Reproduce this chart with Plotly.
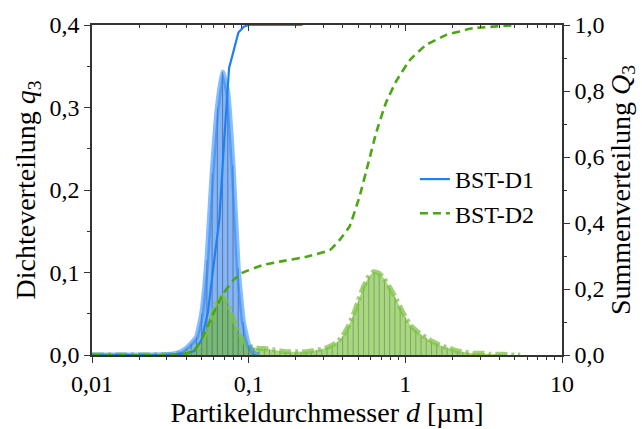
import plotly.graph_objects as go

# ---- data -------------------------------------------------------------
# bin centres (µm)
d_bins = [0.01, 0.02,
          0.03162, 0.03415, 0.03687, 0.03981, 0.04299, 0.04642, 0.05012, 0.05412,
          0.05843, 0.06310, 0.06813, 0.07356, 0.07943, 0.08577, 0.09261,
          0.1000, 0.1080, 0.1166, 0.1259, 0.1359, 0.1468, 0.1585, 0.1711, 0.1848,
          0.1995, 0.2154, 0.2326, 0.2512, 0.2712, 0.2929, 0.3162, 0.3415, 0.3687,
          0.3981, 0.4299, 0.4642, 0.5012, 0.5412, 0.5843, 0.6310, 0.6813, 0.7356,
          0.7943, 0.8577, 0.9261,
          1.000, 1.080, 1.166, 1.259, 1.359, 1.468, 1.585, 1.711, 1.848, 1.995,
          2.154, 2.326, 2.512, 2.712, 2.929, 3.162, 3.415, 3.687, 3.981, 4.299,
          4.642, 5.012, 5.412]

# density q3, BST-D1
q3_d1 = [0.0, 0.0,
         0.001, 0.002, 0.004, 0.008, 0.014, 0.022, 0.050, 0.115,
         0.220, 0.300, 0.343, 0.318, 0.230, 0.105, 0.040,
         0.012, 0.002, 0.0]
d_d1 = d_bins[:len(q3_d1)]

# density q3, BST-D2
q3_d2 = [0.0, 0.0,
         0.000, 0.001, 0.002, 0.003, 0.004, 0.007, 0.015, 0.030,
         0.048, 0.066, 0.071, 0.062, 0.045, 0.030, 0.017,
         0.011, 0.009, 0.008, 0.008, 0.007, 0.006, 0.005, 0.004, 0.004,
         0.004, 0.004, 0.004, 0.005, 0.006, 0.007, 0.009, 0.012, 0.016,
         0.023, 0.034, 0.048, 0.066, 0.083, 0.095, 0.101, 0.099, 0.092,
         0.082, 0.071, 0.058,
         0.046, 0.036, 0.030, 0.025, 0.021, 0.017, 0.014, 0.011, 0.009, 0.007,
         0.005, 0.004, 0.003, 0.002, 0.002, 0.002, 0.001, 0.001, 0.001, 0.001,
         0.000, 0.000, 0.000]
d_d2 = d_bins[:len(q3_d2)]

# cumulative Q3
d_Q_d1 = [0.01, 0.03, 0.04, 0.045, 0.05, 0.055, 0.06, 0.065, 0.07, 0.075,
          0.08, 0.086, 0.093, 0.1, 0.22]
Q3_d1 = [0.0, 0.0, 0.005, 0.012, 0.045, 0.13, 0.28, 0.41, 0.66, 0.87,
         0.92, 0.977, 0.995, 1.0, 1.0]

d_Q_d2 = [0.01, 0.035, 0.0443, 0.051, 0.0595, 0.069, 0.080, 0.090, 0.124,
          0.158, 0.234, 0.33, 0.38, 0.44, 0.51, 0.58, 0.65, 0.75, 0.87,
          1.07, 1.35, 1.83, 2.7, 4.8]
Q3_d2 = [0.0, 0.0, 0.01, 0.055, 0.126, 0.187, 0.227, 0.248, 0.273,
         0.283, 0.298, 0.318, 0.348, 0.389, 0.48, 0.581, 0.672, 0.763, 0.828,
         0.894, 0.939, 0.97, 0.99, 0.999]

series_names = ["BST-D1", "BST-D2"]
x_tickvals = [0.01, 0.1, 1, 10]
x_ticktext = ["0,01", "0,1", "1", "10"]
x_minor = [m * 10 ** e for e in (-2, -1, 0) for m in range(2, 10)]

# ---- styling ----------------------------------------------------------
FONT = "Liberation Serif"
BLUE = "#1f80f5"
GREEN = "#4ba614"
AX = "#333333"
TICKFONT = dict(family=FONT, size=24, color="black")
TITLEFONT = dict(family=FONT, size=28, color="black")


def vlines(xs, ys):
    vx, vy = [], []
    for x, y in zip(xs, ys):
        if y > 0:
            vx += [x, x, None]
            vy += [0, y, None]
    return vx, vy


fig = go.Figure()

fig.add_trace(go.Scatter(x=d_d1, y=q3_d1, mode="lines", line=dict(width=0, shape="spline", smoothing=0.4),
                         fill="tozeroy", fillcolor="rgba(30,120,240,0.55)",
                         showlegend=False, hoverinfo="skip"))
vx, vy = vlines(d_d1, q3_d1)
fig.add_trace(go.Scatter(x=vx, y=vy, mode="lines", line=dict(width=1, color="rgba(70,70,90,0.55)"),
                         showlegend=False, hoverinfo="skip"))

fig.add_trace(go.Scatter(x=d_d2, y=q3_d2, mode="lines", line=dict(width=0, shape="spline", smoothing=0.4),
                         fill="tozeroy", fillcolor="rgba(110,190,40,0.6)",
                         showlegend=False, hoverinfo="skip"))
vx, vy = vlines(d_d2, q3_d2)
fig.add_trace(go.Scatter(x=vx, y=vy, mode="lines", line=dict(width=1, color="rgba(90,90,90,0.45)"),
                         showlegend=False, hoverinfo="skip"))

fig.add_trace(go.Scatter(x=d_d2, y=q3_d2, mode="lines",
                         line=dict(width=5, color="rgba(125,195,70,0.75)", dash="12px,4px,3px,4px",
                                   shape="spline", smoothing=0.4),
                         showlegend=False, hoverinfo="skip"))
fig.add_trace(go.Scatter(x=d_d1, y=q3_d1, mode="lines",
                         line=dict(width=5, color="rgba(40,135,250,0.55)", shape="spline", smoothing=0.4),
                         showlegend=False, hoverinfo="skip"))

fig.add_trace(go.Scatter(x=d_Q_d1, y=Q3_d1, mode="lines", name=series_names[0],
                         line=dict(width=2.2, color=BLUE), yaxis="y2"))
fig.add_trace(go.Scatter(x=d_Q_d2, y=Q3_d2, mode="lines", name=series_names[1],
                         line=dict(width=2.6, color=GREEN, dash="8px,5px", shape="spline", smoothing=0.3),
                         yaxis="y2"))

fig.add_trace(go.Scatter(x=[0.01], y=[0], xaxis="x2", yaxis="y", mode="markers",
                         marker=dict(opacity=0), showlegend=False, hoverinfo="skip"))

fig.update_layout(
    width=642, height=429,
    margin=dict(l=92, r=80, t=25, b=74, autoexpand=False),
    paper_bgcolor="white", plot_bgcolor="white",
    separators=",.",
    font=dict(family=FONT, size=24, color="black"),
    xaxis=dict(type="log", range=[-2, 1], tickmode="array", tickvals=x_tickvals, ticktext=x_ticktext,
               ticks="outside", ticklen=6, tickcolor=AX, tickwidth=1.3, tickfont=TICKFONT,
               showline=True, linecolor=AX, linewidth=1.5, showgrid=False, zeroline=False,
               minor=dict(tickmode="array", tickvals=x_minor, ticks="outside", ticklen=3,
                          tickcolor=AX, tickwidth=1.2),
               title=dict(text="Partikeldurchmesser <i>d</i> [µm]", font=TITLEFONT, standoff=4)),
    xaxis2=dict(type="log", range=[-2, 1], overlaying="x", side="top", anchor="y",
                tickmode="array", tickvals=x_tickvals, ticks="inside", ticklen=6, showticklabels=False,
                tickcolor=AX, tickwidth=1.3,
                showline=True, linecolor=AX, linewidth=1.5, showgrid=False, zeroline=False,
                minor=dict(tickmode="array", tickvals=x_minor, ticks="inside", ticklen=3,
                           tickcolor=AX, tickwidth=1.2)),
    yaxis=dict(range=[0, 0.4], dtick=0.1, tickformat=".1f", ticks="outside", ticklen=6,
               tickcolor=AX, tickwidth=1.3, tickfont=TICKFONT,
               showline=True, linecolor=AX, linewidth=1.5, showgrid=False, zeroline=False,
               minor=dict(dtick=0.05, ticks="outside", ticklen=3, tickcolor=AX, tickwidth=1.2),
               title=dict(text="Dichteverteilung <i>q</i><sub>3</sub>", font=TITLEFONT, standoff=6)),
    yaxis2=dict(range=[0, 1], dtick=0.2, tickformat=".1f", overlaying="y", side="right", anchor="x",
                ticks="outside", ticklen=6, tickcolor=AX, tickwidth=1.3, tickfont=TICKFONT,
                showline=True, linecolor=AX, linewidth=1.5, showgrid=False, zeroline=False,
                minor=dict(dtick=0.1, ticks="outside", ticklen=3, tickcolor=AX, tickwidth=1.2),
                title=dict(text="Summenverteilung <i>Q</i><sub>3</sub>", font=TITLEFONT, standoff=6)),
    legend=dict(x=0.687, y=0.6, xanchor="left", yanchor="top", bgcolor="rgba(0,0,0,0)",
                font=TICKFONT, tracegroupgap=0),
)

# redraw once the serif system font is confirmed available
post = ("if (document.fonts && document.fonts.load) {"
        "document.fonts.load('24px \"Liberation Serif\"').then(function(){"
        "Plotly.redraw(document.getElementById('{plot_id}'));});}")

fig.write_html("out.html", post_script=post)
